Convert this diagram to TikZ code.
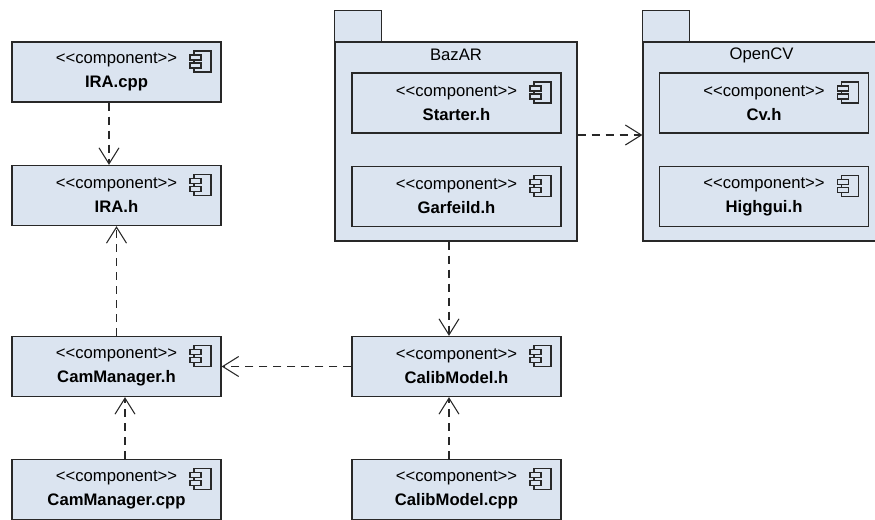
\documentclass[tikz,border=0pt]{standalone}
\usepackage{fontspec}
\setmainfont{Liberation Sans}
\usetikzlibrary{arrows.meta,calc}
\definecolor{boxfill}{RGB}{219,228,240}
\definecolor{boxline}{RGB}{40,40,40}
\newcommand{\stereo}{<{}<component>{}>}
\begin{document}
\begin{tikzpicture}[x=0.75pt,y=-0.75pt,
  comp/.style={draw=boxline,line width=1pt,fill=boxfill,minimum width=156.75pt,minimum height=45pt,
    inner sep=0pt,align=center,font=\fontsize{12.5pt}{18pt}\selectfont,
    path picture={
      \draw[boxline,line width=0.8pt,fill=boxfill] ($(path picture bounding box.north east)+(-27,9)$) rectangle ++(17,21);
      \draw[boxline,line width=0.8pt,fill=boxfill] ($(path picture bounding box.north east)+(-31,13)$) rectangle ++(11,5);
      \draw[boxline,line width=0.8pt,fill=boxfill] ($(path picture bounding box.north east)+(-31,21)$) rectangle ++(11,5);
    }},
  pkg/.style={draw=boxline,line width=1pt,fill=boxfill,minimum width=181.5pt,minimum height=149.25pt,inner sep=0pt},
  pkglabel/.style={font=\fontsize{12.5pt}{15pt}\selectfont,inner sep=0pt},
  dep/.style={draw=boxline,line width=0.8pt,dash pattern=on 6pt off 4.5pt,
    -{Straight Barb[length=12pt,width=15pt,line width=0.8pt]}}
]
\useasboundingbox (0,0) rectangle (875,519);
\fill[white] (0,0) rectangle (875,519);

% packages
\node[pkg] (bazar) at (456,141.5) {};
\draw[boxline,line width=1pt,fill=boxfill] (bazar.north west) rectangle ++(47,-31);
\node[pkglabel] (bazarlbl) at ($(bazar.north)+(0,14)$) {BazAR};

\node[pkg] (opencv) at (764,141.5) {};
\draw[boxline,line width=1pt,fill=boxfill] (opencv.north west) rectangle ++(47,-31);
\node[pkglabel] (opencvlbl) at ($(opencv.north)+(-2.5,14)$) {OpenCV};

% components
\node[comp] (iracpp) at (116.5,72) {\stereo\\\textbf{IRA.cpp}};
\node[comp] (irah) at (116.5,195.5) {\stereo\\\textbf{IRA.h}};
\node[comp] (camh) at (116.5,366.5) {\stereo\\\textbf{CamManager.h}};
\node[comp] (camcpp) at (116.5,489.5) {\stereo\\\textbf{CamManager.cpp}};
\node[comp] (calibh) at (456.5,366.5) {\stereo\\\textbf{CalibModel.h}};
\node[comp] (calibcpp) at (456.5,489.5) {\stereo\\\textbf{CalibModel.cpp}};
\node[comp] (starter) at (456.5,103) {\stereo\\\textbf{Starter.h}};
\node[comp] (garfeild) at (456.5,196.5) {\stereo\\\textbf{Garfeild.h}};
\node[comp] (cv) at (764,103) {\stereo\\\textbf{Cv.h}};
\node[comp] (highgui) at (764,196.5) {\stereo\\\textbf{Highgui.h}};

% dependencies
\draw[dep] ($(iracpp.south)+(-7.5,0)$) -- ($(irah.north)+(-7.5,0)$);
\draw[dep] (camh.north) -- (irah.south);
\draw[dep] ($(camcpp.north)+(8.5,0)$) -- ($(camh.south)+(8.5,0)$);
\draw[dep] ($(bazar.south)+(-7,0)$) -- ($(calibh.north)+(-7.5,0)$);
\draw[dep] ($(calibcpp.north)+(-7.5,0)$) -- ($(calibh.south)+(-7.5,0)$);
\draw[dep] (calibh.west) -- (camh.east);
\draw[dep] ($(bazar.east)+(0,-6.5)$) -- ($(opencv.west)+(0,-6.5)$);
\end{tikzpicture}
\end{document}
